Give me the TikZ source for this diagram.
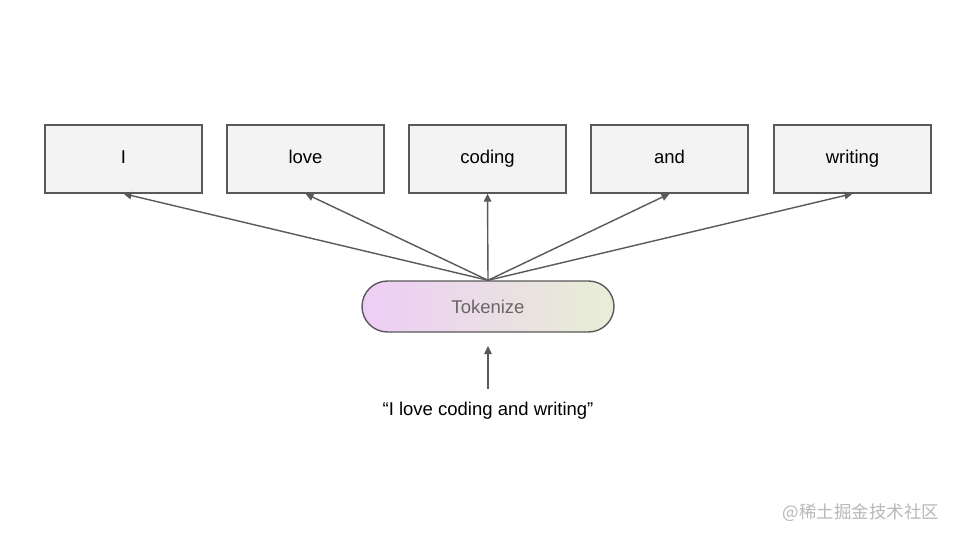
\documentclass[tikz,border=0pt]{standalone}
\usepackage{fontspec}
\setmainfont{Liberation Sans}
\newfontfamily\cjk{Noto Sans CJK SC}
\usetikzlibrary{arrows.meta,shapes.misc}
\definecolor{boxfill}{HTML}{F3F3F3}
\definecolor{edge}{HTML}{595959}
\definecolor{tokL}{HTML}{EDCDF5}
\definecolor{tokR}{HTML}{E8EED6}
\definecolor{wm}{HTML}{B8B8B8}
\tikzset{
  wordbox/.style={draw=edge, line width=1.4pt, fill=boxfill, minimum width=157pt, minimum height=68pt, inner sep=0pt, text height=13.5pt, text depth=4pt, font=\fontsize{18.5}{22}\selectfont},
  tokbox/.style={draw=edge, line width=1.4pt, rounded rectangle, minimum width=252pt, minimum height=51pt, inner sep=0pt, left color=tokL, right color=tokR, text=black!60, font=\fontsize{18.5}{22}\selectfont},
  conn/.style={draw=edge, line width=1.4pt, -{Triangle[length=8pt,width=7.5pt]}},
}
\begin{document}
\begin{tikzpicture}[x=1pt,y=-1pt]
\useasboundingbox[fill=white] (0,0) rectangle (960,540);
\node[wordbox] (w1) at (123.5,159) {I};
\node[wordbox] (w2) at (305.5,159) {love};
\node[wordbox] (w3) at (487.5,159) {coding};
\node[wordbox] (w4) at (669.5,159) {and};
\node[wordbox] (w5) at (852.5,159) {writing};
\node[tokbox] (tok) at (488,306.5) {Tokenize};
\node[font=\fontsize{18.5}{22}\selectfont] (inp) at (488,411) {“I love coding and writing”};
\coordinate (inpTop) at (488,389);
\foreach \i in {1,...,5} \draw[conn] (tok.north) -- (w\i.south);
\draw[conn] (inpTop) -- (tok.south |- 0,346);
\node[text=wm, font=\cjk\fontsize{17.5}{20}\selectfont, anchor=east] (wmk) at (943,513) {@稀土掘金技术社区};
\end{tikzpicture}
\end{document}
